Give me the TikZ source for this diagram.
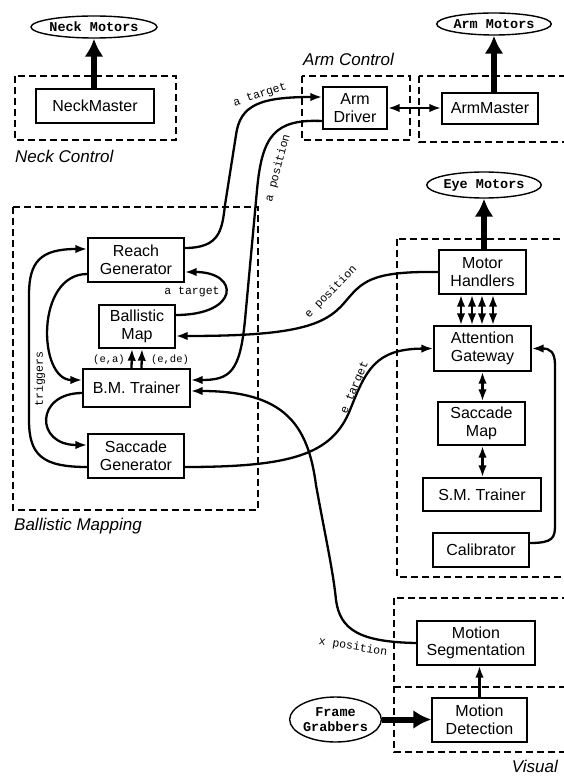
\documentclass[tikz,border=0pt]{standalone}
\usepackage{fontspec}
\setmainfont{Liberation Sans}
\newfontfamily\monof{Liberation Mono}
\usetikzlibrary{arrows.meta,shapes.geometric}
\begin{document}
\begin{tikzpicture}[x=1pt,y=-1pt,
  >={Latex[length=12pt,width=8.5pt]},
  box/.style={draw,line width=1.4pt,fill=white,inner sep=0pt,align=center,font=\fontsize{16}{17.5}\selectfont},
  ell/.style={ellipse,draw,line width=1.4pt,fill=white,inner sep=0pt,align=center,font=\monof\bfseries\fontsize{13.5}{15}\selectfont},
  grp/.style={line width=2.6pt,dash pattern=on 7pt off 4pt},
  conn/.style={line width=2.3pt,->},
  dconn/.style={line width=2.3pt,<->},
  big/.style={line width=6pt,-{Latex[length=18pt,width=19pt]}},
  lbl/.style={font=\monof\fontsize{11.5}{12}\selectfont,inner sep=0pt},
  grplbl/.style={font=\itshape\fontsize{17}{18}\selectfont,inner sep=0pt,anchor=west}]
\useasboundingbox (0,0) rectangle (564,778);

% group frames
\draw[grp] (15,76) rectangle (176,140);
\draw[grp] (302,76) rectangle (410,140);
\draw[grp] (419,76) rectangle (575,142);
\draw[grp] (13,207) rectangle (258,510);
\draw[grp] (397,239) rectangle (575,577);
\draw[grp] (394,598) rectangle (575,752);
\draw[grp] (394,687) -- (575,687);

% group labels
\node[grplbl] (gNeck) at (15,156) {Neck Control};
\node[grplbl] (gArm) at (303,59) {Arm Control};
\node[grplbl] (gBall) at (14,526) {Ballistic Mapping};
\node[grplbl,anchor=east] (gVis) at (558,766) {Visual};

% motors
\node[ell,minimum width=113pt,minimum height=22pt] (NMot) at (94,27) {Neck Motors};
\node[ell,minimum width=114pt,minimum height=22pt] (AMot) at (494,24) {Arm Motors};
\node[ell,minimum width=103pt,minimum height=26pt] (EMot) at (484,185) {Eye Motors};
\node[ell,minimum width=91pt,minimum height=45pt] (FG) at (335.5,719.5) {Frame\\Grabbers};

% boxes
\node[box,minimum width=118pt,minimum height=34pt] (NM) at (95,106) {NeckMaster};
\node[box,minimum width=64pt,minimum height=42pt] (AD) at (355,108) {Arm\\Driver};
\node[box,minimum width=96pt,minimum height=31pt] (AM) at (490,108.5) {ArmMaster};
\node[box,minimum width=96pt,minimum height=44pt] (RG) at (136,260) {Reach\\Generator};
\node[box,minimum width=76pt,minimum height=43pt] (BMap) at (137,326.5) {Ballistic\\Map};
\node[box,minimum width=107pt,minimum height=38pt] (BMT) at (136.5,388) {B.M. Trainer};
\node[box,minimum width=96pt,minimum height=44pt] (SG) at (136,456) {Saccade\\Generator};
\node[box,minimum width=87pt,minimum height=44pt] (MH) at (482.5,272) {Motor\\Handlers};
\node[box,minimum width=97pt,minimum height=45pt] (AG) at (482.5,348.5) {Attention\\Gateway};
\node[box,minimum width=87pt,minimum height=43pt] (SMap) at (481.5,423.5) {Saccade\\Map};
\node[box,minimum width=118pt,minimum height=33pt] (SMT) at (482,494.5) {S.M. Trainer};
\node[box,minimum width=96pt,minimum height=34pt] (Cal) at (481,550) {Calibrator};
\node[box,minimum width=118pt,minimum height=44pt] (MS) at (476,643) {Motion\\Segmentation};
\node[box,minimum width=95pt,minimum height=44pt] (MD) at (479.5,720) {Motion\\Detection};

% thick arrows to motors
\draw[big] (NM.north -| NMot) -- (NMot.south);
\draw[big] (AM.north -| AMot) -- (AMot.south);
\draw[big] (MH.north -| EMot) -- (EMot.south);
\draw[big] (FG.east) -- (MD.west |- FG.east);

% arm
\draw[dconn] (AD.east) -- (AM.west |- AD.east);

% a target: RG -> AD
\draw[conn] ([yshift=12pt]RG.east) .. controls (220,248) and (222,230) .. (225,205) -- (236,135) .. controls (240,105) and (260,97) .. ([yshift=11pt]AD.west);
% a position: AD -> BMT
\draw[conn] ([yshift=-13pt]AD.west) .. controls (275,119) and (262,135) .. (257,190) -- (245,320) .. controls (240,372) and (230,380) .. ([yshift=8pt]BMT.east);
% e position: MH -> BMap
\draw[conn] (MH.west) .. controls (370,271) and (362,282) .. (345,302) .. controls (325,326) and (295,336) .. ([yshift=-9.5pt]BMap.east);
% e target: SG -> AG
\draw[conn] ([yshift=-11pt]SG.east) .. controls (290,467) and (332,455) .. (350,410) .. controls (366,370) and (375,349) .. (AG.west);
% x position: MS -> BMT
\draw[conn] (MS.west) .. controls (360,642) and (340,630) .. (336,600) .. controls (333,570) and (325,535) .. (316,485) .. controls (308,425) and (285,391) .. ([yshift=-3pt]BMT.east);
% inner a target: BMap -> RG
\draw[conn] ([yshift=11.5pt]BMap.east) .. controls (240,315) and (240,272) .. ([yshift=-12pt]RG.east);
% RG -> BMT
\draw[conn] ([yshift=-14pt]RG.west) .. controls (35,274) and (38,380) .. ([yshift=8pt]BMT.west);
% BMT -> SG
\draw[conn] ([yshift=-5pt]BMT.west) .. controls (35,393) and (35,445) .. ([yshift=11pt]SG.west);
% triggers: SG -> RG
\draw[conn] ([yshift=-11pt]SG.west) .. controls (42,467) and (29,455) .. (29,420) -- (29,295) .. controls (29,262) and (40,249) .. ([yshift=11pt]RG.west);
% BMT -> BMap
\draw[conn] ([xshift=-5pt]BMT.north) -- ([xshift=-5pt]BMap.south);
\draw[conn] ([xshift=5pt]BMT.north) -- ([xshift=5pt]BMap.south);

% eye group
\draw[dconn] ([xshift=-21.5pt]MH.south) -- ([xshift=-21.5pt]AG.north);
\draw[dconn] ([xshift=-10.5pt]MH.south) -- ([xshift=-10.5pt]AG.north);
\draw[dconn] ([xshift=-0.5pt]MH.south) -- ([xshift=-0.5pt]AG.north);
\draw[dconn] ([xshift=10.5pt]MH.south) -- ([xshift=10.5pt]AG.north);
\draw[dconn] (AG.south) -- (SMap.north -| AG.south);
\draw[dconn] (SMap.south -| AG.south) -- (SMT.north -| AG.south);
\draw[conn] ([yshift=7pt]Cal.east) .. controls (553,543) and (555,538) .. (555,525) -- (555,365) .. controls (555,352) and (550,348.5) .. (AG.east);

% visual
\draw[conn] (MD.north) -- (MS.south -| MD.north);

% labels
\node[lbl,rotate=18] (lAT) at (260,95) {a target};
\node[lbl,rotate=75] (lAP) at (278,168) {a position};
\node[lbl] (lAT2) at (192,292) {a target};
\node[lbl,font=\monof\fontsize{10.5}{11}\selectfont] (lEA) at (109,360) {(e,a)};
\node[lbl,font=\monof\fontsize{10.5}{11}\selectfont] (lEDE) at (170,360) {(e,de)};
\node[lbl,rotate=90] (lTrig) at (40,379) {triggers};
\node[lbl,rotate=46] (lEP) at (331,292) {e position};
\node[lbl,rotate=67] (lET) at (355,388) {e target};
\node[lbl,rotate=-9] (lXP) at (353,647) {x position};
\end{tikzpicture}
\end{document}
